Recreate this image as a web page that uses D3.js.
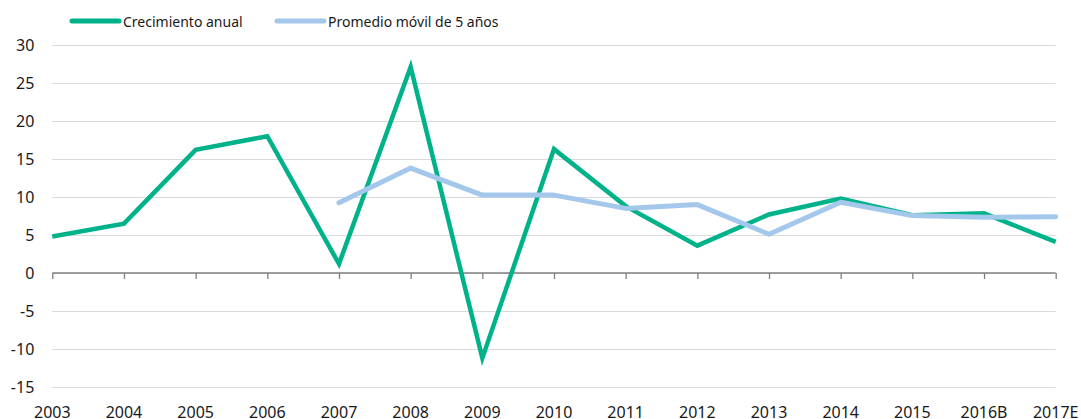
<!DOCTYPE html>
<html lang="es">
<meta charset="utf-8">
<head>
    <title>Crecimiento anual</title>
    <script src="https://d3js.org/d3.v7.min.js"></script>
    <style>
        body { margin: 0; background: #fff; }
        text { font-family: "Noto Sans", sans-serif; fill: #1a1a1a; }
    </style>
</head>
<body>
    <div id="plot"></div>
    <script>
        // data
        var years = ["2003", "2004", "2005", "2006", "2007", "2008", "2009", "2010",
            "2011", "2012", "2013", "2014", "2015", "2016B", "2017E"];
        var crecimiento = [4.8, 6.5, 16.2, 18.0, 1.2, 27.1, -11.2, 16.3,
            8.8, 3.6, 7.7, 9.8, 7.6, 7.85, 4.1];
        var promedio = [null, null, null, null, 9.25, 13.8, 10.25, 10.25,
            8.5, 9.0, 5.1, 9.3, 7.55, 7.35, 7.4];
        var yTicks = [30, 25, 20, 15, 10, 5, 0, -5, -10, -15];

        var width = 1081, height = 419;
        var plotLeft = 52.3, plotRight = 1055.7, plotTop = 45, plotBottom = 387;

        var svg = d3.select("#plot").append("svg")
            .attr("width", width)
            .attr("height", height);

        var x = d3.scalePoint()
            .domain(years)
            .range([plotLeft, plotRight]);

        var y = d3.scaleLinear()
            .domain([-15, 30])
            .range([plotBottom, plotTop]);

        // gridlines + y labels (plain hyphen for negatives, like the original)
        var yAxis = svg.append("g")
            .attr("transform", "translate(" + plotLeft + ",0)")
            .call(d3.axisLeft(y).tickValues(yTicks)
                .tickFormat(function (d) { return String(d); })
                .tickSize(-(plotRight - plotLeft)).tickPadding(18));
        yAxis.select(".domain").remove();
        yAxis.selectAll(".tick line").attr("stroke", "#d9d9d9").attr("stroke-width", 1);
        yAxis.selectAll(".tick text").style("font-size", "16px").attr("fill", "#1a1a1a");

        // zero line with ticks
        var xAxis = svg.append("g")
            .attr("transform", "translate(0," + y(0) + ")")
            .call(d3.axisBottom(x).tickSize(6).tickFormat(""));
        xAxis.select(".domain").attr("stroke", "#808080").attr("stroke-width", 1.3)
            .attr("d", "M" + plotLeft + ",0H" + plotRight);
        xAxis.selectAll(".tick line").attr("stroke", "#808080").attr("stroke-width", 1.3);

        // year labels at the bottom
        svg.append("g").selectAll("text")
            .data(years)
            .join("text")
            .attr("x", function (d) { return x(d); })
            .attr("y", 418)
            .attr("text-anchor", "middle")
            .style("font-size", "16px")
            .text(function (d) { return d; });

        var line = d3.line()
            .defined(function (d) { return d[1] != null; })
            .x(function (d) { return x(d[0]); })
            .y(function (d) { return y(d[1]); });

        svg.append("path")
            .datum(years.map(function (d, i) { return [d, crecimiento[i]]; }))
            .attr("fill", "none")
            .attr("stroke", "#00b28a")
            .attr("stroke-width", 4.5)
            .attr("stroke-linejoin", "miter")
            .attr("d", line);

        svg.append("path")
            .datum(years.map(function (d, i) { return [d, promedio[i]]; }))
            .attr("fill", "none")
            .attr("stroke", "#a4c8ec")
            .attr("stroke-width", 5)
            .attr("stroke-linecap", "round")
            .attr("stroke-linejoin", "round")
            .attr("d", line);

        // legend
        var legend = [
            { name: "Crecimiento anual", color: "#00b28a", x: 72 },
            { name: "Promedio móvil de 5 años", color: "#a4c8ec", x: 277 }
        ];
        var lg = svg.append("g").selectAll("g")
            .data(legend)
            .join("g")
            .attr("transform", function (d) { return "translate(" + d.x + ",21)"; });
        lg.append("line")
            .attr("x1", 0).attr("x2", 47)
            .attr("stroke", function (d) { return d.color; })
            .attr("stroke-width", 5)
            .attr("stroke-linecap", "round");
        lg.append("text")
            .attr("x", 51)
            .attr("y", 5.5)
            .style("font-size", "14px")
            .text(function (d) { return d.name; });
    </script>
</body>
</html>
